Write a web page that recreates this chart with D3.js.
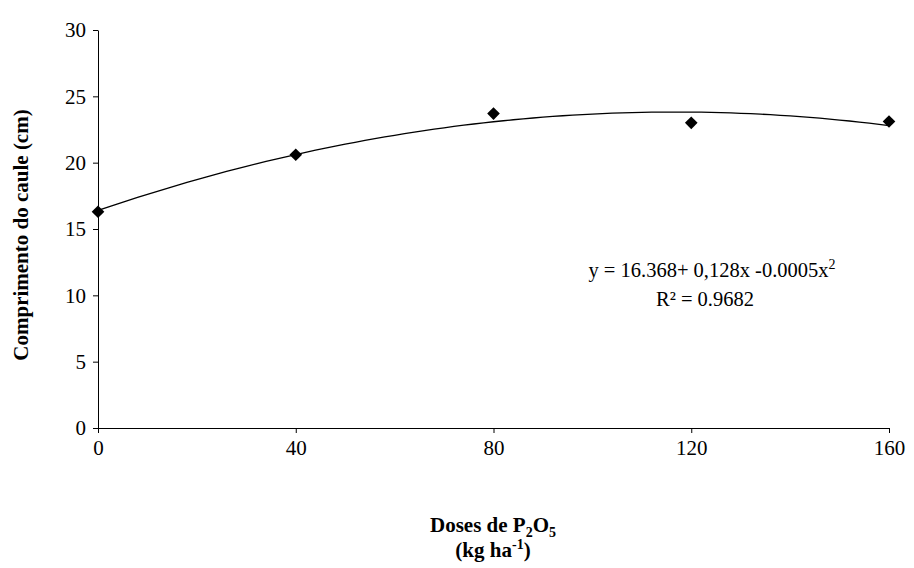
<!DOCTYPE html>
<html><head><meta charset="utf-8">
<script src="https://cdn.jsdelivr.net/npm/d3@7"></script>
<style>body{margin:0;background:#fff}svg{font-family:"Liberation Serif","Times New Roman",serif}</style>
</head><body><svg id="c" width="914" height="568"></svg>
<script>
const doses=[0,40,80,120,160];
const comprimento=[16.3,20.6,23.7,23.0,23.1];
const yTicks=[0,5,10,15,20,25,30];
const xTicks=[0,40,80,120,160];
const svg=d3.select("#c");
const x=d3.scaleLinear().domain([0,160]).range([98,889]);
const y=d3.scaleLinear().domain([0,30]).range([428,30]);
svg.append("g").attr("transform","translate(0,428)")
 .call(d3.axisBottom(x).tickValues(xTicks).tickSize(5).tickSizeOuter(0).tickPadding(7))
 .call(g=>g.selectAll("text").attr("font-size",21).attr("font-family","Liberation Serif").attr("fill","#000"))
 .call(g=>g.selectAll("line,path").attr("stroke","#000"));
svg.append("g").attr("transform","translate(98,0)")
 .call(d3.axisLeft(y).tickValues(yTicks).tickSize(5).tickSizeOuter(0).tickPadding(7))
 .call(g=>g.selectAll("text").attr("font-size",21).attr("font-family","Liberation Serif").attr("fill","#000"))
 .call(g=>g.selectAll("line,path").attr("stroke","#000"));
function fit(xs,ys){let S=[[0,0,0],[0,0,0],[0,0,0]],B=[0,0,0];
 xs.forEach((xi,i)=>{const p=[1,xi,xi*xi];for(let r=0;r<3;r++){B[r]+=p[r]*ys[i];for(let c=0;c<3;c++)S[r][c]+=p[r]*p[c];}});
 for(let i=0;i<3;i++){for(let k=i+1;k<3;k++){const f=S[k][i]/S[i][i];for(let j=0;j<3;j++)S[k][j]-=f*S[i][j];B[k]-=f*B[i];}}
 const s=[0,0,0];for(let i=2;i>=0;i--){let v=B[i];for(let j=i+1;j<3;j++)v-=S[i][j]*s[j];s[i]=v/S[i][i];}return s;}
const co=fit(doses,comprimento);
const pts=d3.range(0,160.01,2).map(v=>[v,co[0]+co[1]*v+co[2]*v*v]);
svg.append("path").attr("d",d3.line().x(d=>x(d[0])).y(d=>y(d[1]))(pts)).attr("fill","none").attr("stroke","#000").attr("stroke-width",1.3);
svg.selectAll(".m").data(doses).join("path").attr("d",d3.symbol(d3.symbolSquare,80))
 .attr("transform",(d,i)=>`translate(${x(d)},${y(comprimento[i])}) rotate(45)`).attr("fill","#000");
const t=svg.append("text").attr("x",712).attr("y",277).attr("text-anchor","middle").attr("font-size",20.5);
t.append("tspan").text("y = 16.368+ 0,128x -0.0005x");
t.append("tspan").attr("dy",-8).attr("font-size",14).text("2");
svg.append("text").attr("x",705).attr("y",306).attr("text-anchor","middle").attr("font-size",20.5).text("R² = 0.9682");
svg.append("text").attr("transform","translate(28,235) rotate(-90)").attr("text-anchor","middle").attr("font-size",21).attr("font-weight","bold").text("Comprimento do caule (cm)");
const xl=svg.append("text").attr("x",493).attr("y",532).attr("text-anchor","middle").attr("font-size",21).attr("font-weight","bold");
xl.append("tspan").text("Doses de P");xl.append("tspan").attr("dy",5).attr("font-size",14).text("2");
xl.append("tspan").attr("dy",-5).text("O");xl.append("tspan").attr("dy",5).attr("font-size",14).text("5");
const xl2=svg.append("text").attr("x",493).attr("y",557).attr("text-anchor","middle").attr("font-size",21).attr("font-weight","bold");
xl2.append("tspan").text("(kg ha");xl2.append("tspan").attr("dy",-8).attr("font-size",14).text("-1");
xl2.append("tspan").attr("dy",8).text(")");
</script></body></html>
